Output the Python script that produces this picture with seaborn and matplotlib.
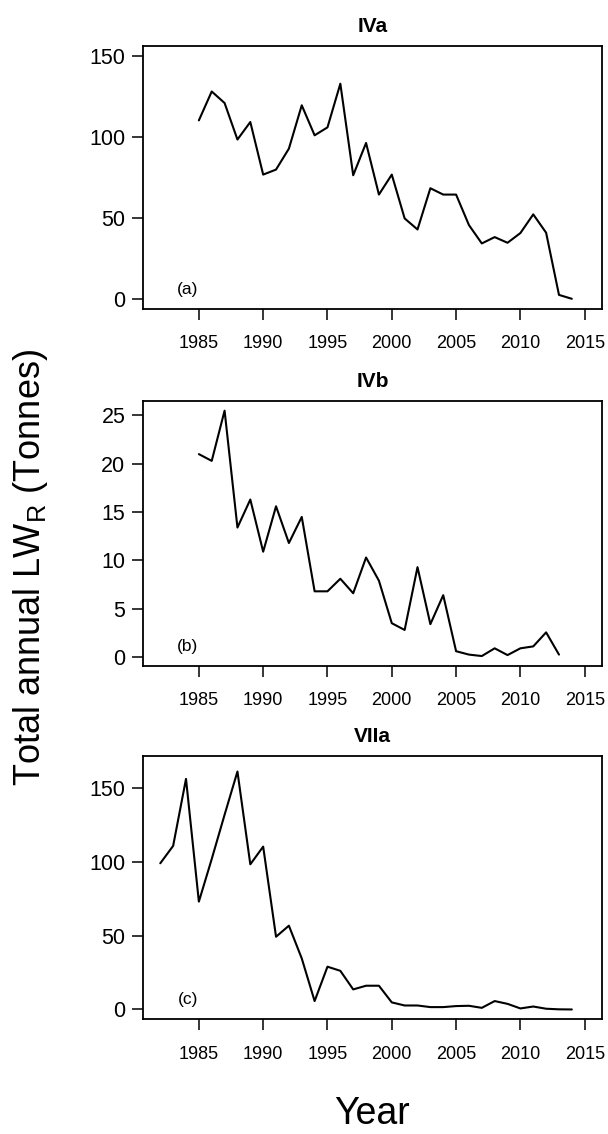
import matplotlib
matplotlib.use("Agg")
import matplotlib.pyplot as plt
import seaborn as sns
import pandas as pd
import numpy as np

# ---- data ----
years_a = list(range(1985, 2015))
vals_a = [110.2, 128.0, 120.9, 98.4, 109.2, 76.8, 79.9, 92.8, 119.5, 101.0,
          105.9, 132.8, 76.4, 96.3, 64.5, 76.8, 49.8, 43.0, 68.4, 64.5,
          64.5, 45.7, 34.4, 38.3, 34.8, 40.8, 52.3, 41.0, 2.7, 0.3]

years_b = list(range(1985, 2014))
vals_b = [21.0, 20.3, 25.5, 13.4, 16.3, 10.9, 15.6, 11.8, 14.5, 6.8,
          6.8, 8.1, 6.6, 10.3, 7.9, 3.5, 2.8, 9.3, 3.4, 6.4,
          0.6, 0.25, 0.1, 0.9, 0.2, 0.9, 1.1, 2.55, 0.25]

years_c = list(range(1982, 2015))
vals_c = [99.1, 110.9, 156.3, 73.1, 102.0, 132.0, 161.3, 98.4, 110.4, 49.3,
          56.8, 34.6, 5.7, 29.0, 26.2, 13.6, 16.1, 16.1, 4.8, 2.7,
          2.7, 1.6, 1.6, 2.3, 2.5, 1.1, 5.7, 3.8, 0.7, 2.0,
          0.5, 0.1, 0.0]

titles = ["IVa", "IVb", "VIIa"]
panel_labels = ["(a)", "(b)", "(c)"]
x_ticks = [1985, 1990, 1995, 2000, 2005, 2010, 2015]
y_ticks = [[0, 50, 100, 150], [0, 5, 10, 15, 20, 25], [0, 50, 100, 150]]
y_limits = [(-6, 156), (-0.93, 26.5), (-6.7, 171.8)]
x_limits = (1980.68, 2016.32)
y_label = "Total annual LW$_\\mathregular{R}$ (Tonnes)"
x_label = "Year"

sns.set_theme(style="white")
plt.rcParams["font.family"] = ["Liberation Sans", "DejaVu Sans"]
plt.rcParams["mathtext.fontset"] = "custom"
plt.rcParams["mathtext.rm"] = "Liberation Sans"
plt.rcParams["text.color"] = "black"
plt.rcParams["axes.labelcolor"] = "black"
plt.rcParams["xtick.color"] = "black"
plt.rcParams["ytick.color"] = "black"

fig = plt.figure(figsize=(6.08, 11.34), dpi=100)
positions = [
    [0.2357, 0.7275, 0.7539, 0.2319],
    [0.2357, 0.4127, 0.7539, 0.2337],
    [0.2357, 0.1011, 0.7539, 0.2322],
]
data = [(years_a, vals_a), (years_b, vals_b), (years_c, vals_c)]

for i, (yrs, vals) in enumerate(data):
    ax = fig.add_axes(positions[i])
    df = pd.DataFrame({"Year": yrs, "Value": vals})
    sns.lineplot(data=df, x="Year", y="Value", ax=ax, color="black",
                 linewidth=1.5)
    ax.set_xlim(*x_limits)
    ax.set_ylim(*y_limits[i])
    ax.set_xticks(x_ticks)
    ax.set_yticks(y_ticks[i])
    ax.set_xlabel("")
    ax.set_ylabel("")
    for s in ax.spines.values():
        s.set_visible(True)
        s.set_color("black")
        s.set_linewidth(1.3)
    ax.tick_params(axis="x", direction="out", length=8, width=1.1,
                   color="black", labelcolor="black", pad=11,
                   labelsize=13, bottom=True)
    ax.tick_params(axis="y", direction="out", length=8, width=1.1,
                   color="black", labelcolor="black", pad=5,
                   labelsize=15.5, left=True)
    ax.set_title(titles[i], fontsize=15, fontweight="bold", pad=10,
                 color="black")
    ax.text(0.0975, 0.075, panel_labels[i], transform=ax.transAxes,
            ha="center", va="center", fontsize=12.5, color="black")
    ax.grid(False)

fig.text(0.05, 0.5, y_label, rotation=90, ha="center", va="center",
         fontsize=26, color="black")
fig.text(0.611, 0.002, x_label, ha="center", va="bottom", fontsize=27,
         color="black")

fig.savefig("out.png", dpi=100, facecolor="white")
